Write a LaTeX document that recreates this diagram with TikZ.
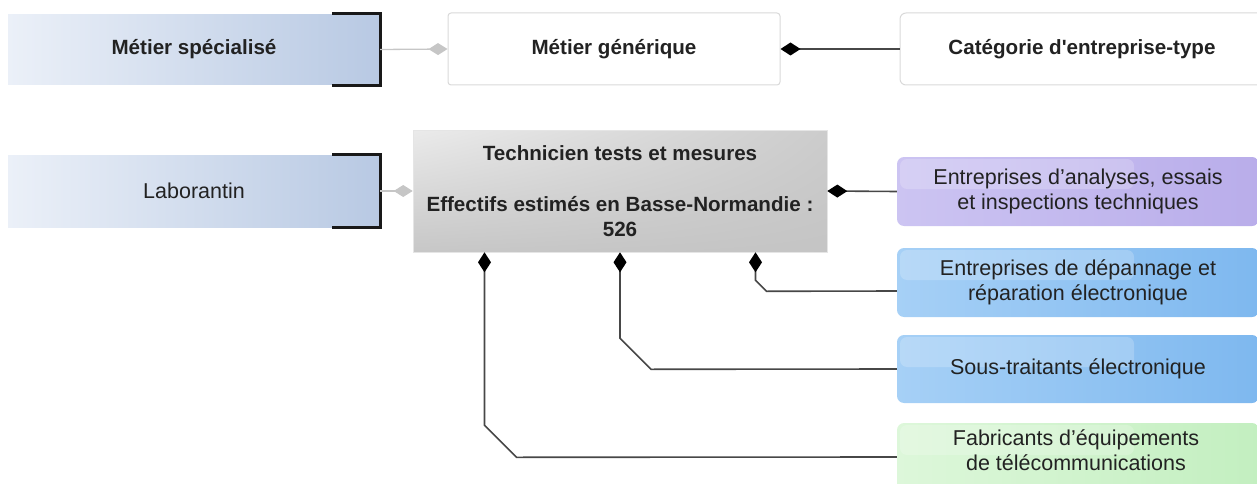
\documentclass[tikz,border=0pt]{standalone}
\usepackage{fontspec}
\setmainfont{Liberation Sans}
\usetikzlibrary{arrows.meta,calc,shadings}
\definecolor{specL}{HTML}{EBF0F8}
\definecolor{specR}{HTML}{B8C9E3}
\definecolor{purL}{HTML}{CCC4F2}
\definecolor{purR}{HTML}{B9ADEA}
\definecolor{bluL}{HTML}{A6D0F6}
\definecolor{bluR}{HTML}{7EB8EF}
\definecolor{grnL}{HTML}{DDF7DA}
\definecolor{grnR}{HTML}{C3EFC0}
\definecolor{txtc}{HTML}{222222}
\begin{document}
\begin{tikzpicture}[x=1pt,y=-1pt,
  txt/.style={font=\fontsize{21.5}{24.5}\selectfont, text=txtc, align=center},
  btxt/.style={font=\fontsize{20.6}{25.5}\selectfont\bfseries, text=txtc, align=center},
  specbox/.style={draw=none, left color=specL, right color=specR, minimum width=372, minimum height=70, inner sep=0},
  whitebox/.style={draw=gray!30, line width=1pt, fill=white, rounded corners=3, inner sep=0},
  colbox/.style={draw=none, rounded corners=7, minimum width=362, inner sep=0,
    path picture={\fill[white, opacity=0.2, rounded corners=7]
      ($(path picture bounding box.north west)+(3,2)$) rectangle ++(234,30);}},
  bracketline/.style={draw=black!90, line width=3pt},
  gline/.style={draw=gray!45, line width=1.3pt},
  bline/.style={draw=black!72, line width=1.6pt},
  gtip/.style={{Diamond[length=19pt,width=12pt]}-},
  btip/.style={{Diamond[length=20pt,width=13pt,fill=black,color=black]}-}
]
\useasboundingbox (0,0) rectangle (1257,484);

% row 1
\node[specbox, btxt] (spec) at (194,49.5) {Métier spécialisé};
\draw[bracketline] ($(spec.north east)+(-48,-1)$) -- ($(spec.north east)+(0,-1)$) -- ($(spec.south east)+(0,1)$) -- ($(spec.south east)+(-48,1)$);
\node[whitebox, btxt, minimum width=332, minimum height=72] (gen) at (614,49) {Métier générique};
\node[whitebox, btxt, rounded corners=6, minimum width=364, minimum height=72] (cat) at (1082,49) {Catégorie d\textquotesingle entreprise-type};
\draw[gline, gtip] (gen.west) -- (spec.east);
\draw[bline, btip] (gen.east) -- (cat.west);

% row 2
\node[specbox, txt, minimum height=72] (lab) at (194,191) {Laborantin};
\draw[bracketline] ($(lab.north east)+(-48,0)$) -- (lab.north east) -- (lab.south east) -- ($(lab.south east)+(-48,0)$);
\node[btxt, draw=gray!20, line width=0.6pt, upper left=gray!16, upper right=gray!40, lower left=gray!44, lower right=gray!46,
      minimum width=414, minimum height=122, inner sep=0] (tech) at (620,191)
  {Technicien tests et mesures\\[25.5pt]Effectifs estimés en Basse-Normandie :\\526};
\draw[gline, gtip] (tech.west) -- (lab.east);

% right column
\node[colbox, txt, left color=purL, right color=purR, minimum height=69] (pur) at (1078,191.5)
  {Entreprises d’analyses, essais\\et inspections techniques};
\node[colbox, txt, left color=bluL, right color=bluR, minimum height=69] (dep) at (1078,282.5)
  {Entreprises de dépannage et\\réparation électronique};
\node[colbox, txt, left color=bluL, right color=bluR, minimum height=68] (sous) at (1078,369)
  {Sous-traitants électronique};
\node[colbox, left color=grnL, right color=grnR, minimum height=68] (fab) at (1078,457) {};
\node[txt] (fabt) at (1076,450) {Fabricants d’équipements\\de télécommunications};

% connectors
\draw[bline, btip] (tech.east) -- (pur.west);
\draw[bline, btip] ($(tech.south)+(135.5,0)$) -- ++(0,28) -- ++(11,11) -- ($(dep.west)+(0,8.5)$);
\draw[bline, btip] (tech.south) -- ++(0,86) -- ++(31,31) -- (sous.west);
\draw[bline, btip] ($(tech.south)+(-135.5,0)$) -- ++(0,173) -- ++(32,32) -- (fab.west);
\end{tikzpicture}
\end{document}
